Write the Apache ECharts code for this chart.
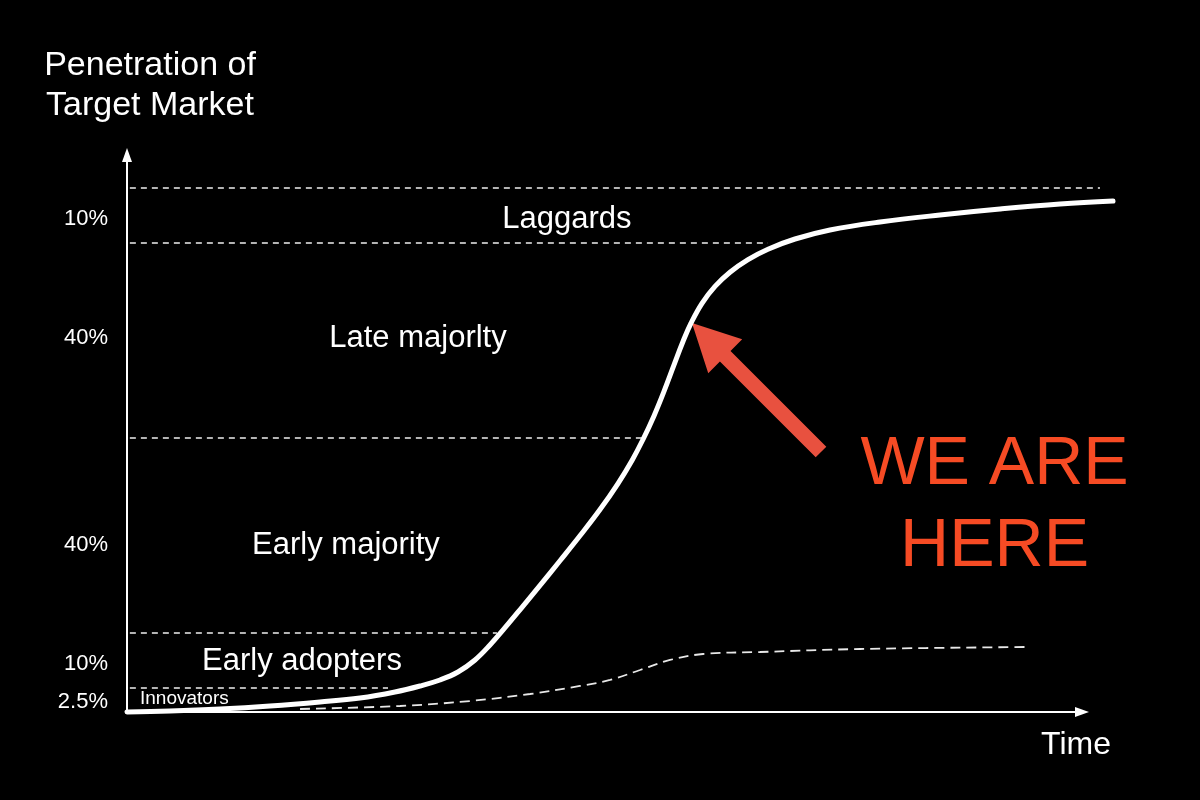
<!DOCTYPE html>
<html>
<head>
<meta charset="utf-8">
<script src="https://cdn.jsdelivr.net/npm/echarts@6/dist/echarts.min.js"></script>
<style>
html,body{margin:0;padding:0;background:#000;}
#c{width:1200px;height:800px;}
</style>
</head>
<body>
<div id="c"></div>
<script>
// ---- data (chart units: x = time 0..100, y = position 0..100) ----
const adoptionX = [0, 4.50, 9.74, 14.97, 20.21, 24.40, 28.06, 30.68, 32.77, 34.66, 36.44, 38.01, 39.58, 41.36, 43.25, 45.34, 47.43, 49.53, 51.41, 52.88, 54.03, 55.18, 56.23, 57.28, 58.22, 59.06, 60.21, 61.57, 63.14, 65.03, 67.12, 69.95, 73.61, 78.85, 85.13, 91.41, 97.70, 103.25];
const adoptionY = [0, 0.18, 0.54, 1.08, 1.80, 2.51, 3.59, 4.67, 5.75, 7.18, 9.34, 12.03, 15.13, 18.79, 22.73, 27.15, 31.63, 36.34, 41.02, 45.17, 48.92, 53.16, 57.56, 62.32, 66.52, 69.82, 73.38, 76.41, 78.96, 81.22, 83.09, 84.92, 86.54, 87.97, 89.23, 90.30, 91.20, 91.74];
const secondX = [18.12, 28.59, 35.92, 42.20, 47.43, 50.58, 53.72, 56.86, 60.31, 66.28, 76.75, 94.24];
const secondY = [0.54, 1.08, 1.97, 3.23, 4.67, 5.75, 7.54, 9.34, 10.41, 10.77, 11.31, 11.67];
const bandBoundaries = [4.31, 14.18, 49.19, 84.20, 94.08];
const boundaryEnds = [27.33, 38.74, 54.03, 67.12, 101.88];
const tickValues = [1.80, 8.62, 29.98, 67.15, 88.51];
const tickLabels = ['2.5%', '10%', '40%', '40%', '10%'];
const bandNames = ['Innovators', 'Early adopters', 'Early majority', 'Late majorlty', 'Laggards'];
const bandLabelX = [1.36, 18.32, 22.93, 30.47, 46.07];
const bandLabelY = [2.33, 9.16, 29.98, 67.15, 88.51];
const calloutText = 'WE ARE\nHERE';
const calloutPos = [90.84, 36.98];
const arrowTail = [72.67, 46.68];
const arrowTip = [59.16, 69.84];
const yTitle = 'Penetration of\nTarget Market';
const xTitle = 'Time';

const FONT = '"Liberation Sans", Arial, Helvetica, sans-serif';
const chart = echarts.init(document.getElementById('c'));

const zip = (xs, ys) => xs.map((x, i) => [x, ys[i]]);

// grid 0: visible axes (x 0..100 over 127..1082). grid 1: same scale, wider, hidden (for marks past the arrow)
const option = {
  backgroundColor: '#000',
  animation: false,
  textStyle: { fontFamily: FONT },
  grid: [
    { left: 127, right: 118, top: 155, bottom: 88, containLabel: false },
    { left: 127, right: 80, top: 155, bottom: 88, containLabel: false }
  ],
  xAxis: [{
    type: 'value', min: 0, max: 100, gridIndex: 0,
    axisLine: { show: true, symbol: ['none', 'triangle'], symbolSize: [10, 14], lineStyle: { color: '#fff', width: 2 } },
    axisTick: { show: false }, axisLabel: { show: false }, splitLine: { show: false }
  }, {
    type: 'value', min: 0, max: 103.98, gridIndex: 1, show: false, splitLine: { show: false }
  }],
  yAxis: [{
    type: 'value', min: 0, max: 100, gridIndex: 0,
    axisLine: { show: true, symbol: ['none', 'triangle'], symbolSize: [10, 14], lineStyle: { color: '#fff', width: 2 } },
    axisTick: { show: false }, splitLine: { show: false },
    axisLabel: {
      show: true, customValues: tickValues, color: '#fff', fontSize: 22, margin: 19, fontFamily: FONT,
      formatter: function (v) {
        let best = 0, d = Infinity;
        tickValues.forEach((t, i) => { if (Math.abs(t - v) < d) { d = Math.abs(t - v); best = i; } });
        return tickLabels[best];
      }
    }
  }, {
    type: 'value', min: 0, max: 100, gridIndex: 1, show: false, splitLine: { show: false }
  }],
  graphic: [
    { type: 'text', x: 150, y: 46, style: { text: yTitle, fill: '#fff', fontSize: 34, fontFamily: FONT, align: 'center', verticalAlign: 'top', lineHeight: 40 } },
    { type: 'text', x: 1076, y: 745, style: { text: xTitle, fill: '#fff', fontSize: 32, fontFamily: FONT, align: 'center', verticalAlign: 'middle' } }
  ],
  series: [
    {
      type: 'lines', coordinateSystem: 'cartesian2d', clip: false, silent: true, z: 1,
      data: bandBoundaries.map((b, i) => ({ coords: [[0.3, b], [boundaryEnds[i], b]] })),
      lineStyle: { color: '#eeeeee', width: 1.5, type: [6, 5], opacity: 1 }
    },
    {
      type: 'line', data: zip(secondX, secondY), smooth: 0.35, symbol: 'none', clip: false, silent: true, z: 2,
      lineStyle: { color: '#e8e8e8', width: 1.8, type: [10, 6] }
    },
    {
      type: 'custom', coordinateSystem: 'cartesian2d', clip: false, silent: true, z: 3,
      data: [[arrowTail[0], arrowTail[1], arrowTip[0], arrowTip[1]]],
      renderItem: function (params, api) {
        const a = api.coord([api.value(0), api.value(1)]);
        const b = api.coord([api.value(2), api.value(3)]);
        const dx = b[0] - a[0], dy = b[1] - a[1];
        const L = Math.hypot(dx, dy);
        const ux = dx / L, uy = dy / L, nx = -uy, ny = ux;
        const headLen = 47, headW = 48, shaftW = 15;
        const bx = b[0] - ux * headLen, by = b[1] - uy * headLen;
        const pts = [
          [a[0] + nx * shaftW / 2, a[1] + ny * shaftW / 2],
          [bx + nx * shaftW / 2, by + ny * shaftW / 2],
          [bx + nx * headW / 2, by + ny * headW / 2],
          [b[0], b[1]],
          [bx - nx * headW / 2, by - ny * headW / 2],
          [bx - nx * shaftW / 2, by - ny * shaftW / 2],
          [a[0] - nx * shaftW / 2, a[1] - ny * shaftW / 2]
        ];
        return { type: 'polygon', shape: { points: pts }, style: { fill: '#e8513f' } };
      }
    },
    {
      type: 'line', xAxisIndex: 1, yAxisIndex: 1, data: zip(adoptionX, adoptionY), smooth: 0.4, symbol: 'none', clip: false, silent: true, z: 4,
      lineStyle: { color: '#fff', width: 5, cap: 'round', join: 'round' }
    },
    {
      type: 'scatter', symbolSize: 0, silent: true, z: 5, clip: false,
      itemStyle: { opacity: 1 },
      data: bandNames.map((n, i) => ({
        name: n, value: [bandLabelX[i], bandLabelY[i]],
        label: i === 0 ? { fontSize: 19, align: 'left' } : {}
      })),
      label: { show: true, position: 'inside', formatter: '{b}', color: '#ffffff', opacity: 1, fontSize: 31, fontFamily: FONT }
    },
    {
      type: 'scatter', symbolSize: 0, silent: true, z: 5, clip: false,
      itemStyle: { opacity: 1 },
      data: [{ name: calloutText, value: calloutPos }],
      label: { show: true, position: 'inside', formatter: '{b}', color: '#f64b24', opacity: 1, fontSize: 68, lineHeight: 82, fontFamily: FONT, align: 'center' }
    }
  ]
};
chart.setOption(option);
</script>
</body>
</html>
